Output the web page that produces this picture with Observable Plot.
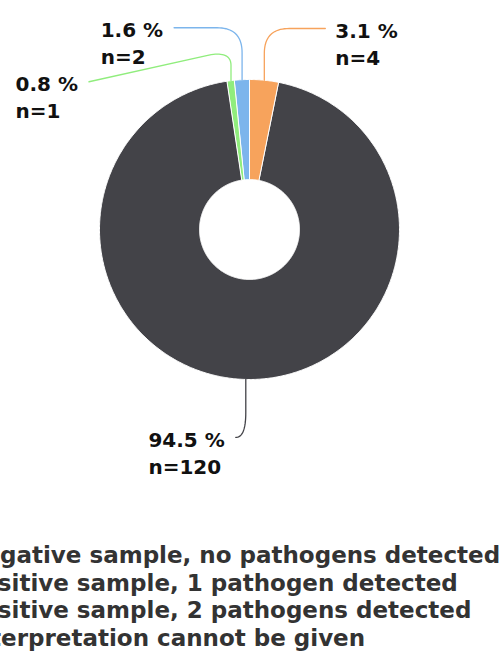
<!DOCTYPE html>
<html><head><meta charset="utf-8">
<script src="https://cdn.jsdelivr.net/npm/d3@7"></script>
<script src="https://cdn.jsdelivr.net/npm/@observablehq/plot@0.6"></script>
<style>
html,body{margin:0;padding:0;background:#fff;width:504px;height:660px;overflow:hidden}
#legend{position:relative;overflow:hidden;width:504px;font:bold 23px "DejaVu Sans";color:#333;line-height:27.5px;white-space:nowrap}
</style></head><body><div id="chart"></div><script>
// ---- data ----
const categories = ["Negative sample, no pathogens detected","Positive sample, 1 pathogen detected","Positive sample, 2 pathogens detected","Interpretation cannot be given"];
const counts = [120, 4, 2, 1];
// ---- styles ----
const colors = ["#434348", "#f7a35c", "#7cb5ec", "#90ed7d"];
const sliceOrder = [1, 0, 3, 2]; // clockwise from 12 o'clock

// ---- layout ----
const W = 504, H = 520, cx = 249, cy = 229, R = 150, r0 = 50;
const labelDist = 52, spread = 54, rc = 25, bottomDrop = 6;
const reach = {1: 61, 0: 10, 3: 142, 2: 68};
const labelFont = "bold 20px 'DejaVu Sans'";

const total = d3.sum(counts);
const polar = (rad, th) => [rad * Math.sin(th), rad * Math.cos(th)];
let acc = 0;
const slices = sliceOrder.map(i => {
  const a0 = acc; acc += counts[i] / total * 2 * Math.PI;
  return {i, a0, a1: acc, mid: (a0 + acc) / 2};
});

// slice polygons
const slicePts = [];
for (const s of slices) {
  const n = Math.max(2, Math.ceil((s.a1 - s.a0) / (Math.PI / 360)));
  const pts = [];
  for (let k = 0; k <= n; k++) pts.push(polar(R, s.a0 + (s.a1 - s.a0) * k / n));
  for (let k = n; k >= 0; k--) pts.push(polar(r0, s.a0 + (s.a1 - s.a0) * k / n));
  for (const [x, y] of pts) slicePts.push({k: s.i, x, y, color: colors[s.i]});
}

// label placement
const labs = slices.map(s => {
  const side = Math.sin(s.mid) >= 0 ? 1 : -1;
  const top = Math.cos(s.mid) >= 0;
  let natural = (R + labelDist) * Math.cos(s.mid) - (top ? 0 : bottomDrop);
  return {...s, side, top, natural, fy: natural};
});
for (const side of [1, -1]) {
  const grp = labs.filter(l => l.side === side && l.top).sort((a, b) => b.natural - a.natural);
  for (let k = 1; k < grp.length; k++) grp[k].fy = Math.min(grp[k].natural, grp[k - 1].fy - spread);
}
const ctx = document.createElement("canvas").getContext("2d");
ctx.font = labelFont;
const connPts = [], labels = [];
for (const l of labs) {
  const P0 = polar(R, l.mid);
  const shift = l.natural - l.fy;
  const Q = [P0[0], l.natural - 0.4 * shift];
  const E = [P0[0] + l.side * reach[l.i], l.fy];
  const dA = Math.hypot(P0[0] - Q[0], P0[1] - Q[1]);
  const dB = Math.hypot(E[0] - Q[0], E[1] - Q[1]);
  const ra = Math.min(rc, dA / 2), rb = Math.min(rc, dB);
  const A = [Q[0] + (P0[0] - Q[0]) / dA * ra, Q[1] + (P0[1] - Q[1]) / dA * ra];
  const B = [Q[0] + (E[0] - Q[0]) / dB * rb, Q[1] + (E[1] - Q[1]) / dB * rb];
  const pts = [P0, A];
  for (let t = 0.05; t < 1; t += 0.05) {
    const u = 1 - t;
    pts.push([u*u*A[0] + 2*u*t*Q[0] + t*t*B[0], u*u*A[1] + 2*u*t*Q[1] + t*t*B[1]]);
  }
  pts.push(B, E);
  for (const [x, y] of pts) connPts.push({k: l.i, x, y, color: colors[l.i]});
  const pct = (counts[l.i] / total * 100).toFixed(1) + " %";
  const nn = "n=" + counts[l.i];
  const bw = Math.max(ctx.measureText(pct).width, ctx.measureText(nn).width);
  const tx = l.side > 0 ? E[0] + 10 : E[0] - 11 - bw;
  labels.push({x: tx, y: E[1], text: pct + "\n" + nn});
}

const chart = Plot.plot({
  width: W, height: H, margin: 0,
  x: {domain: [-cx, W - cx], axis: null},
  y: {domain: [cy - H, cy], axis: null},
  color: {type: "identity"},
  style: {fontFamily: "DejaVu Sans", background: "#fff"},
  marks: [
    Plot.line(slicePts, {x: "x", y: "y", z: "k", fill: "color", stroke: "#fff", strokeWidth: 1, curve: "linear-closed"}),
    Plot.line(connPts, {x: "x", y: "y", z: "k", stroke: "color", strokeWidth: 1.3}),
    Plot.text(labels, {x: "x", y: "y", text: "text", textAnchor: "start", lineAnchor: "top", dy: -10, fontSize: 20, fontWeight: "bold", fill: "#111", lineHeight: 1.35})
  ]
});
document.getElementById("chart").appendChild(chart);

// legend (clipped on the left as in the reference)
const legend = document.createElement("div");
legend.id = "legend";
legend.style.marginTop = "22px";
ctx.font = "bold 23px 'DejaVu Sans'";
const x0 = -ctx.measureText("Ne").width;
for (const c of categories) {
  const d = document.createElement("div");
  d.textContent = c;
  d.style.marginLeft = x0 + "px";
  legend.appendChild(d);
}
document.body.appendChild(legend);
</script></body></html>
